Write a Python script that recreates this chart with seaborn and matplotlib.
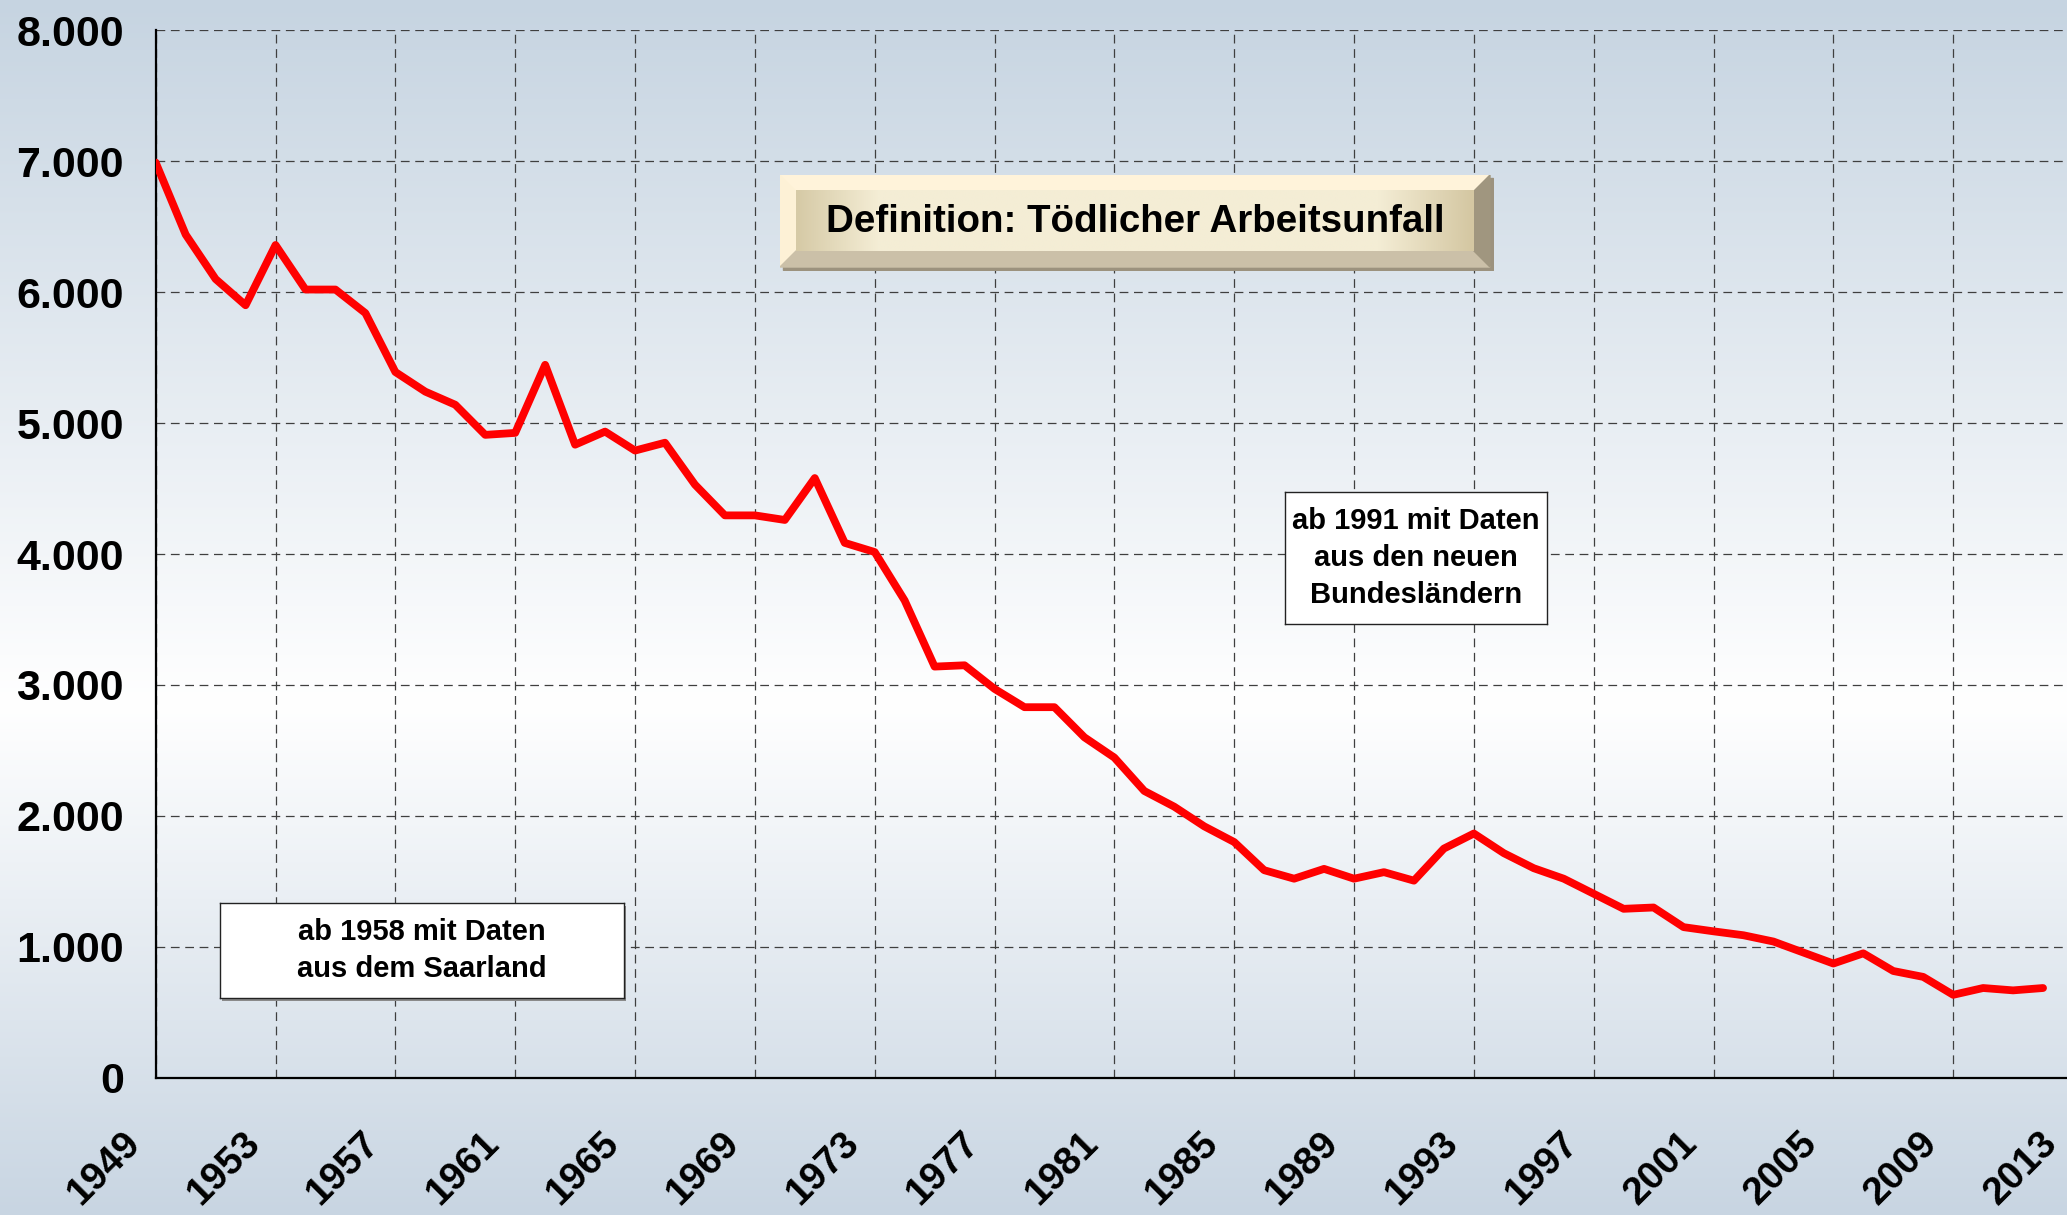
"""
Tödliche Arbeitsunfälle in Deutschland 1949-2012 (Liniendiagramm).
"""

import numpy as np
import matplotlib
matplotlib.use("Agg")
import matplotlib.pyplot as plt
from matplotlib.patches import Polygon, Rectangle
from matplotlib.transforms import ScaledTranslation
import seaborn as sns

W, H, DPI = 2067, 1215, 100

jahre = list(range(1949, 2013))
todesfaelle = [
    6990, 6440, 6100, 5900, 6360, 6020, 6020, 5840, 5390, 5240,   # 1949-1958
    5140, 4910, 4925, 5445, 4835, 4935, 4790, 4850, 4530, 4295,   # 1959-1968
    4295, 4260, 4580, 4085, 4015, 3645, 3140, 3150, 2970, 2830,   # 1969-1978
    2830, 2600, 2445, 2190, 2070, 1920, 1800, 1585, 1520, 1595,   # 1979-1988
    1520, 1570, 1505, 1750, 1865, 1715, 1600, 1520, 1405, 1290,   # 1989-1998
    1300, 1150, 1118, 1088, 1040, 956, 872, 950, 815, 770,        # 1999-2008
    633, 685, 667, 685,                                           # 2009-2012
]
x_ticks = list(range(1949, 2014, 4))
x_tick_labels = [str(j) for j in x_ticks]
y_ticks = [0, 1000, 2000, 3000, 4000, 5000, 6000, 7000, 8000]
y_tick_labels = ["0", "1.000", "2.000", "3.000", "4.000", "5.000", "6.000", "7.000", "8.000"]

titel = "Definition: Tödlicher Arbeitsunfall"
hinweis_saarland = "ab 1958 mit Daten\naus dem Saarland"
hinweis_neue_laender = "ab 1991 mit Daten\naus den neuen\nBundesländern"

sns.set_theme(style="white")
plt.rcParams["font.family"] = ["Liberation Sans", "DejaVu Sans"]


def px(x0, y0, x1, y1):
    """Rechteck in Pixeln (oben links) -> Figure-Koordinaten."""
    return [x0 / W, 1 - y1 / H, (x1 - x0) / W, (y1 - y0) / H]


def farbverlauf(n, stops, farben):
    pos = np.linspace(0, 1, n)
    farben = np.array(farben, dtype=float) / 255
    return np.stack([np.interp(pos, stops, farben[:, i]) for i in range(3)], axis=-1)


fig = plt.figure(figsize=(W / DPI, H / DPI), dpi=DPI)

# Hintergrund: blaugrau -> weiss -> blaugrau
bg = fig.add_axes([0, 0, 1, 1])
bg.axis("off")
verlauf = farbverlauf(H, [0, 0.58, 1], [(198, 212, 225), (255, 255, 255), (200, 213, 226)])
bg.imshow(verlauf[:, None, :], aspect="auto", extent=[0, 1, 0, 1])

# Hauptdiagramm
ax = fig.add_axes(px(155.7, 30.3, 2073, 1077.7))
ax.set_facecolor("none")
sns.lineplot(x=jahre, y=todesfaelle, ax=ax, color="#FF0000", linewidth=5.6, zorder=3)
ax.set_xlim(1949, 2013)
ax.set_ylim(0, 8000)
ax.set_xticks(x_ticks, x_tick_labels)
ax.set_yticks(y_ticks, y_tick_labels)
ax.set_xlabel("")
ax.set_ylabel("")
ax.grid(True, color="#3f3f3f", linestyle=(0, (7, 4.5)), linewidth=0.9)
ax.set_axisbelow(True)
for s in ["top", "right"]:
    ax.spines[s].set_visible(False)
for s in ["left", "bottom"]:
    ax.spines[s].set_color("black")
    ax.spines[s].set_linewidth(1.6)
ax.tick_params(axis="both", direction="inout", length=20, width=1.6, color="black", labelcolor="black")
ax.tick_params(axis="y", labelsize=31, pad=13)
ax.tick_params(axis="x", labelsize=28, pad=24)
for lab in ax.get_yticklabels():
    lab.set_fontweight("bold")
for lab in ax.get_xticklabels():
    lab.set_fontweight("bold")
    lab.set_rotation(45)
    lab.set_ha("right")
    lab.set_va("top")
    lab.set_rotation_mode("anchor")
    lab.set_transform(lab.get_transform() + ScaledTranslation(-34 / DPI, 0, fig.dpi_scale_trans))

# Schaltfläche "Definition"
btn = fig.add_axes(px(780, 175, 1494, 271))
btn.axis("off")
bw, bh, b = 710, 92, 16
btn.add_patch(Rectangle((3, 3), bw, bh, color="#9C927E", zorder=1))
btn.add_patch(Polygon([(0, 0), (bw, 0), (bw - b, b), (b, b)], color="#FFF3DA", zorder=2))
btn.add_patch(Polygon([(0, 0), (b, b), (b, bh - b), (0, bh)], color="#FDF1D6", zorder=2))
btn.add_patch(Polygon([(0, bh), (b, bh - b), (bw - b, bh - b), (bw, bh)], color="#CBC0A8", zorder=2))
btn.add_patch(Polygon([(bw, 0), (bw, bh), (bw - b, bh - b), (bw - b, b)], color="#A0967F", zorder=2))
flaeche = farbverlauf(300, [0, 0.12, 0.86, 1],
                      [(214, 202, 166), (244, 237, 213), (244, 237, 213), (212, 199, 162)])
btn.imshow(flaeche[None, :, :], aspect="auto", extent=(b, bw - b, bh - b, b), zorder=2)
btn.set_xlim(0, 714)
btn.set_ylim(96, 0)
btn.text(bw / 2, bh / 2 + 1, titel, ha="center", va="center", fontsize=27.7,
         fontweight="bold", color="black", zorder=3)


def hinweisbox(rect, text, schatten=False):
    if schatten:
        s = fig.add_axes(px(rect[0] + 2, rect[1] + 3, rect[2] + 2, rect[3] + 3))
        s.set_facecolor("#8A8A8A")
        s.set_xticks([])
        s.set_yticks([])
        for sp in s.spines.values():
            sp.set_visible(False)
    box = fig.add_axes(px(*rect))
    box.set_facecolor("white")
    box.set_xticks([])
    box.set_yticks([])
    for sp in box.spines.values():
        sp.set_color("#222222")
        sp.set_linewidth(1.0)
    box.text(0.5, 0.5, text, ha="center", va="center", fontsize=21, fontweight="bold",
             linespacing=1.42, color="black", transform=box.transAxes)


hinweisbox((220, 903, 624, 998), hinweis_saarland, schatten=True)
hinweisbox((1285, 492, 1547, 624), hinweis_neue_laender)

fig.savefig("out.png", dpi=DPI)
plt.close(fig)
